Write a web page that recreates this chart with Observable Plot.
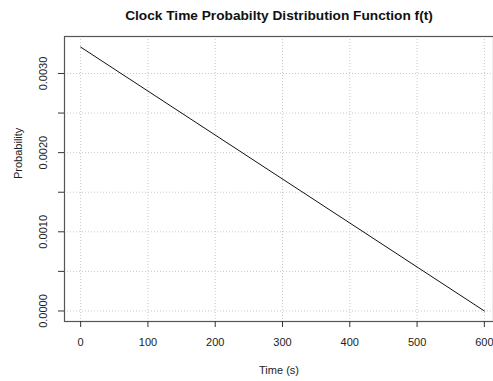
<!DOCTYPE html>
<html>
<head>
<meta charset="utf-8">
<script src="https://cdn.jsdelivr.net/npm/d3@7"></script>
<script src="https://cdn.jsdelivr.net/npm/@observablehq/plot@0.6"></script>
<style>
  body { margin: 0; background: #fff; }
  #chart svg { display: block; }
</style>
</head>
<body>
<div id="chart"></div>
<script>
// Clock time density: f(t) falls linearly from t = 0 to t = 600 s
const time = [0, 600];
const prob = [0.0033333, 0];

const xTicks = [0, 100, 200, 300, 400, 500, 600];
const yTicks = [0, 0.0005, 0.001, 0.0015, 0.002, 0.0025, 0.003];
const yLabels = [0, 0.001, 0.002, 0.003];

const title = "Clock Time Probabilty Distribution Function f(t)";
const xTitle = "Time (s)";
const yTitle = "Probability";

const points = time.map((t, i) => ({t, p: prob[i]}));
const font = "Liberation Sans, Arial, sans-serif";
const grid = {stroke: "#c8c8c8", strokeDasharray: "1,2", strokeOpacity: 1};

const chart = Plot.plot({
  width: 493,
  height: 381,
  marginLeft: 64,
  marginRight: 0,
  marginTop: 36,
  marginBottom: 60,
  style: {fontFamily: font, fontSize: "11px", color: "#222", background: "#fff", overflow: "hidden"},
  x: {domain: [-24, 624], range: [64, 500]},
  y: {domain: [-0.000133, 0.003467]},
  marks: [
    Plot.gridX(xTicks, grid),
    Plot.gridY(yTicks, grid),
    Plot.frame({stroke: "#555", strokeWidth: 1.2}),
    Plot.axisX(xTicks, {tickSize: 6, tickFormat: () => "", stroke: "#333", label: null}),
    Plot.axisY(yTicks, {tickSize: 6, tickFormat: () => "", stroke: "#333", label: null}),
    Plot.text(xTicks, {x: d => d, frameAnchor: "bottom", dy: 21, lineAnchor: "middle", text: d => String(d), fontSize: 11, fill: "#222"}),
    Plot.text(yLabels, {y: d => d, frameAnchor: "left", dx: -21, rotate: -90, lineAnchor: "middle", textAnchor: "middle", text: d => d.toFixed(4), fontSize: 11, fill: "#222"}),
    Plot.text([xTitle], {frameAnchor: "bottom", dy: 49, lineAnchor: "middle", fontSize: 11, fill: "#222"}),
    Plot.text([yTitle], {frameAnchor: "left", dx: -46, rotate: -90, lineAnchor: "middle", fontSize: 11, fill: "#222"}),
    Plot.text([title], {frameAnchor: "top", dy: -21, lineAnchor: "middle", fontSize: 13.7, fontWeight: "bold", fill: "#111"}),
    Plot.line(points, {x: "t", y: "p", stroke: "#111", strokeWidth: 1})
  ]
});

document.getElementById("chart").append(chart);
</script>
</body>
</html>
